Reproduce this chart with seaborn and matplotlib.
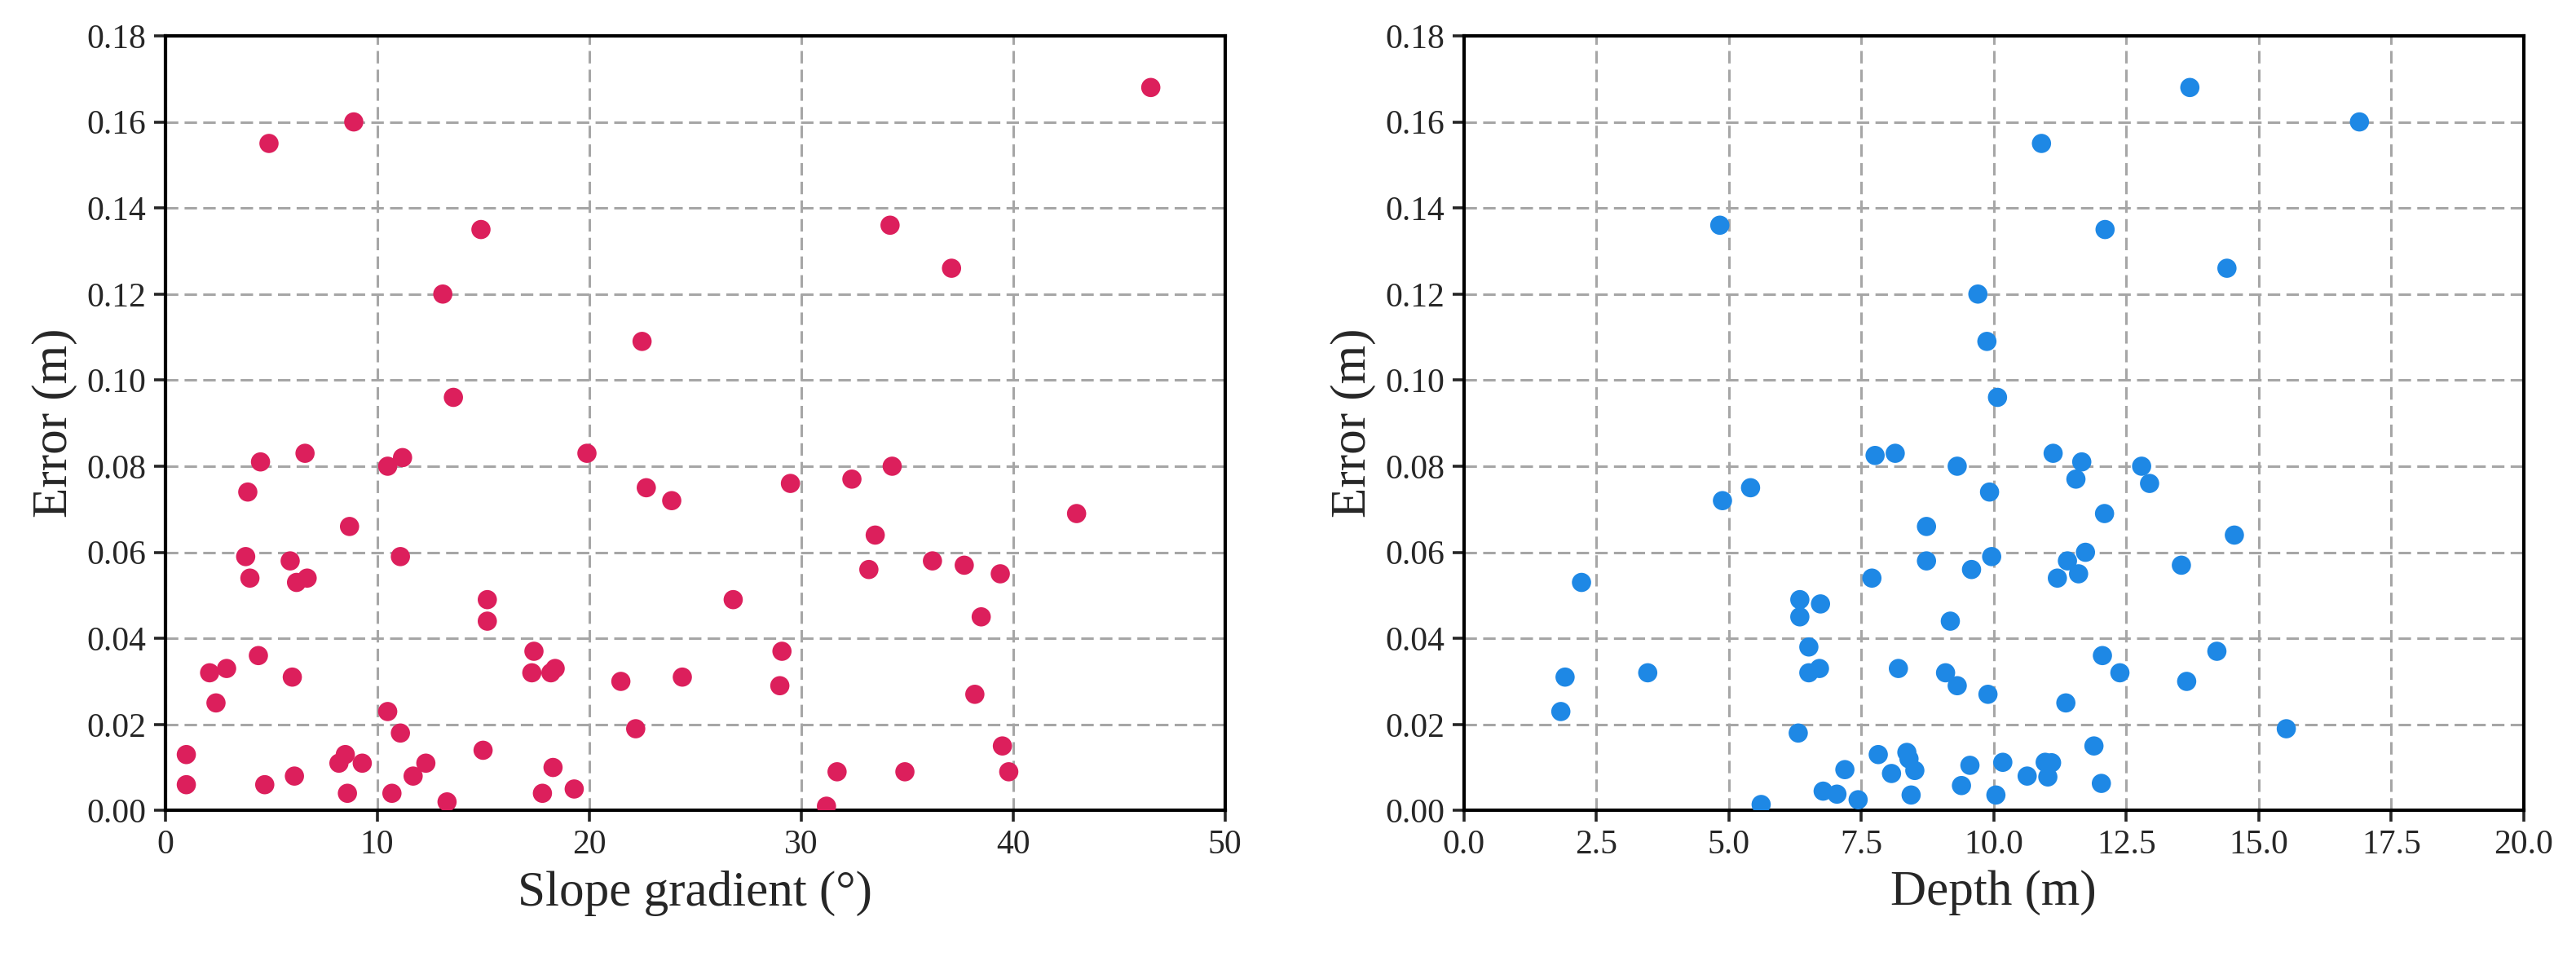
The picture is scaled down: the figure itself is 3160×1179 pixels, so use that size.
import numpy as np
import pandas as pd
import matplotlib
matplotlib.use("Agg")
import matplotlib.pyplot as plt
import seaborn as sns

# ==========================================
# 1. DATA
# ==========================================
slope = [4.9, 8.9, 14.9, 13.1, 22.5, 13.6, 4.5, 6.6, 10.5, 11.2,
         19.9, 46.5, 34.2, 37.1, 34.3, 32.4, 29.5, 22.7, 3.9, 8.7,
         3.8, 5.9, 11.1, 4.0, 6.2, 6.7, 15.2, 15.2, 4.4, 2.1,
         2.9, 6.0, 2.4, 17.4, 17.3, 18.2, 18.4, 21.5, 10.5, 11.1,
         22.2, 1.0, 1.0, 4.7, 6.1, 8.2, 8.5, 9.3, 8.6, 10.7,
         11.7, 12.3, 13.3, 15.0, 18.3, 17.8, 19.3, 23.9, 43.0, 33.5,
         33.2, 36.2, 37.7, 39.4, 26.8, 38.5, 29.1, 24.4, 29.0, 38.2,
         39.5, 31.7, 34.9, 39.8, 31.2]
slope_err = [0.155, 0.160, 0.135, 0.120, 0.109, 0.096, 0.081, 0.083, 0.080, 0.082,
             0.083, 0.168, 0.136, 0.126, 0.080, 0.077, 0.076, 0.075, 0.074, 0.066,
             0.059, 0.058, 0.059, 0.054, 0.053, 0.054, 0.049, 0.044, 0.036, 0.032,
             0.033, 0.031, 0.025, 0.037, 0.032, 0.032, 0.033, 0.030, 0.023, 0.018,
             0.019, 0.013, 0.006, 0.006, 0.008, 0.011, 0.013, 0.011, 0.004, 0.004,
             0.008, 0.011, 0.002, 0.014, 0.010, 0.004, 0.005, 0.072, 0.069, 0.064,
             0.056, 0.058, 0.057, 0.055, 0.049, 0.045, 0.037, 0.031, 0.029, 0.027,
             0.015, 0.009, 0.009, 0.009, 0.001]

depth = [13.7, 16.9, 10.9, 12.1, 4.83, 14.4, 9.7, 9.87, 10.07, 7.76,
         8.14, 9.31, 11.12, 11.66, 12.79, 11.55, 12.94, 5.41, 4.88, 9.92,
         12.09, 8.73, 14.54, 8.73, 9.96, 9.58, 7.70, 11.39, 11.73, 11.60,
         11.20, 13.54, 2.22, 6.34, 6.73, 6.34, 9.18, 6.51, 12.05, 14.21,
         6.51, 6.71, 8.20, 1.91, 3.47, 9.09, 9.31, 9.89, 12.38, 13.64,
         1.83, 11.36, 6.31, 15.52, 11.89, 7.82, 8.36, 8.40, 7.19, 8.07,
         8.51, 9.55, 10.17, 10.97, 11.09, 11.02, 10.63, 12.03, 9.39, 6.78,
         7.04, 7.44, 8.44, 10.04, 5.61]
depth_err = [0.168, 0.160, 0.155, 0.135, 0.136, 0.126, 0.120, 0.109, 0.096, 0.0825,
             0.083, 0.080, 0.083, 0.081, 0.080, 0.077, 0.076, 0.075, 0.072, 0.074,
             0.069, 0.066, 0.064, 0.058, 0.059, 0.056, 0.054, 0.058, 0.060, 0.055,
             0.054, 0.057, 0.053, 0.049, 0.048, 0.045, 0.044, 0.038, 0.036, 0.037,
             0.032, 0.033, 0.033, 0.031, 0.032, 0.032, 0.029, 0.027, 0.032, 0.030,
             0.023, 0.025, 0.018, 0.019, 0.015, 0.013, 0.0135, 0.012, 0.0095, 0.0086,
             0.0093, 0.0105, 0.0112, 0.0112, 0.0111, 0.0078, 0.0080, 0.0063, 0.0058, 0.0045,
             0.0038, 0.0025, 0.0036, 0.0036, 0.0014]

df_slope = pd.DataFrame({"slope": slope, "error": slope_err})
df_depth = pd.DataFrame({"depth": depth, "error": depth_err})

# ==========================================
# 2. STYLE
# ==========================================
sns.set_style("ticks")
plt.rcParams["font.family"] = ["Liberation Serif", "DejaVu Serif"]

fig, axes = plt.subplots(1, 2, figsize=(15.8, 5.895), dpi=200)
plt.subplots_adjust(left=0.0641, right=0.9797, bottom=0.1566, top=0.9627, wspace=0.2254)

grid_kw = dict(color="#a6a6a6", linestyle=(0, (5, 2.5)), linewidth=1.1)

# ==========================================
# 3. SCATTER PLOTS
# ==========================================
sns.scatterplot(data=df_slope, x="slope", y="error", ax=axes[0],
                color="#DC1F5C", s=72, edgecolor="none", zorder=3)
axes[0].set_xlim(0, 50)
axes[0].set_xticks(np.arange(0, 51, 10))
axes[0].set_xlabel("Slope gradient (°)", fontsize=22)

sns.scatterplot(data=df_depth, x="depth", y="error", ax=axes[1],
                color="#1E88E5", s=72, edgecolor="none", zorder=3)
axes[1].set_xlim(0, 20)
axes[1].set_xticks(np.arange(0, 20.1, 2.5))
axes[1].set_xlabel("Depth (m)", fontsize=22)

for ax in axes:
    ax.set_ylim(0, 0.18)
    ax.set_yticks(np.arange(0, 0.181, 0.02))
    ax.yaxis.set_major_formatter(matplotlib.ticker.FormatStrFormatter("%.2f"))
    ax.set_ylabel("Error (m)", fontsize=22)
    ax.grid(True, **grid_kw)
    ax.set_axisbelow(True)
    ax.tick_params(labelsize=15, length=5, width=1.3, direction="out")
    for sp in ax.spines.values():
        sp.set_visible(True)
        sp.set_linewidth(1.5)
        sp.set_color("black")

axes[1].xaxis.set_major_formatter(matplotlib.ticker.FormatStrFormatter("%.1f"))

plt.savefig("out.png", dpi=200)
